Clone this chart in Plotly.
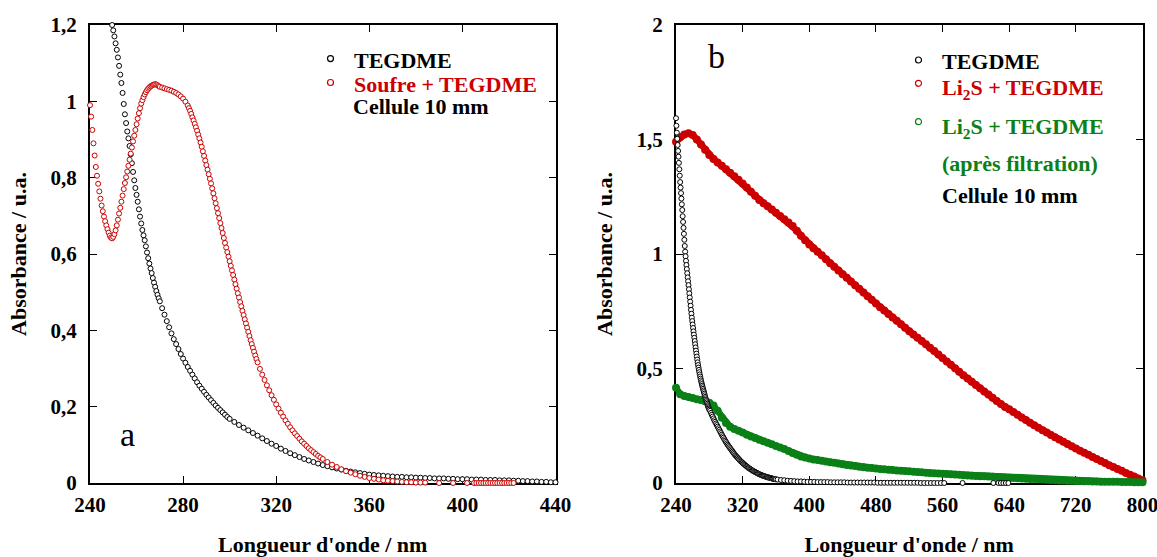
import numpy as np
import plotly.graph_objects as go

W, H = 1157, 557

# ---------------- Panel a : wavelengths (nm) and absorbances ----------------
a_teg_wl = np.concatenate([np.arange(249.5, 270.01, 0.5), np.arange(271, 300.1, 1), np.arange(302, 440.1, 2)])
a_teg_abs = [
    1.200, 1.186, 1.170, 1.152, 1.135, 1.115, 1.093, 1.070, 1.048, 1.022,
    0.993, 0.966, 0.943, 0.921, 0.903, 0.883, 0.861, 0.838, 0.815, 0.793,
    0.773, 0.755, 0.737, 0.717, 0.698, 0.680, 0.663, 0.649, 0.636, 0.620,
    0.604, 0.589, 0.575, 0.562, 0.550, 0.537, 0.525, 0.514, 0.503, 0.493,
    0.484, 0.476,
    0.458, 0.441, 0.424, 0.408, 0.392, 0.377, 0.364, 0.351, 0.338, 0.326,
    0.315, 0.304, 0.294, 0.284, 0.274, 0.264, 0.255, 0.247, 0.239, 0.231,
    0.224, 0.217, 0.210, 0.203, 0.197, 0.191, 0.185, 0.179, 0.173, 0.168,
    0.160, 0.152, 0.145, 0.138, 0.131, 0.124, 0.117, 0.110, 0.103, 0.097,
    0.090, 0.084, 0.078, 0.073, 0.068, 0.063, 0.059, 0.055, 0.051, 0.047,
    0.044, 0.041, 0.038, 0.035, 0.032, 0.030, 0.028, 0.026, 0.024, 0.022,
    0.021, 0.020, 0.019, 0.018, 0.017, 0.016, 0.016, 0.015, 0.015, 0.014,
    0.014, 0.013, 0.013, 0.012, 0.012, 0.012, 0.011, 0.011, 0.010, 0.010,
    0.010, 0.009, 0.009, 0.009, 0.008, 0.008, 0.008, 0.007, 0.007, 0.007,
    0.006, 0.006, 0.005, 0.005, 0.004, 0.004, 0.003, 0.003, 0.002, 0.002,
]

a_sul_wl = np.concatenate([
    np.arange(239.5, 270.01, 0.5), np.arange(271, 282.1, 1), np.arange(282.5, 312.01, 0.5),
    np.arange(313, 340.1, 1), np.arange(342, 384.1, 2), [390, 396, 402], np.arange(405, 422.1, 1)])
a_sul_abs = [
    1.018, 0.990, 0.960, 0.925, 0.890, 0.858, 0.828, 0.805, 0.784, 0.764,
    0.745, 0.727, 0.712, 0.698, 0.686, 0.675, 0.665, 0.656, 0.648, 0.643,
    0.641, 0.645, 0.652, 0.662, 0.675, 0.690, 0.706, 0.721, 0.737, 0.753,
    0.770, 0.786, 0.801, 0.816, 0.831, 0.847, 0.863, 0.879, 0.895, 0.910,
    0.925, 0.940, 0.955, 0.969, 0.982, 0.994, 1.003, 1.011, 1.018, 1.024,
    1.029, 1.033, 1.036, 1.039, 1.041, 1.043, 1.044, 1.045, 1.044, 1.042,
    1.040, 1.038,
    1.036, 1.034, 1.032, 1.030, 1.028, 1.025, 1.022, 1.018, 1.013, 1.007,
    0.999, 0.989,
    0.982, 0.975, 0.967, 0.958, 0.950, 0.941, 0.932, 0.923, 0.913, 0.903,
    0.892, 0.881, 0.869, 0.857, 0.845, 0.833, 0.821, 0.809, 0.797, 0.785,
    0.772, 0.759, 0.746, 0.733, 0.720, 0.707, 0.694, 0.681, 0.668, 0.655,
    0.642, 0.629, 0.617, 0.605, 0.593, 0.581, 0.569, 0.557, 0.545, 0.533,
    0.521, 0.509, 0.497, 0.486, 0.474, 0.463, 0.451, 0.440, 0.429, 0.418,
    0.407, 0.396, 0.385, 0.374, 0.364, 0.354, 0.344, 0.334, 0.325, 0.316,
    0.299, 0.284, 0.270, 0.256, 0.243, 0.230, 0.218, 0.206, 0.195, 0.184,
    0.174, 0.164, 0.155, 0.146, 0.138, 0.130, 0.123, 0.116, 0.109, 0.103,
    0.097, 0.091, 0.086, 0.081, 0.076, 0.071, 0.067, 0.063,
    0.055, 0.048, 0.042, 0.036, 0.031, 0.027, 0.023, 0.019, 0.016, 0.013,
    0.011, 0.009, 0.007, 0.006, 0.005, 0.004, 0.003, 0.002, 0.002, 0.001,
    0.001, 0.001,
    0.0, 0.0, 0.0,
    0.0, 0.0, 0.0, 0.0, 0.0, 0.0, 0.0, 0.0, 0.0, 0.0,
    0.0, 0.0, 0.0, 0.0, 0.0, 0.0, 0.0, 0.0,
]

# ---------------- Panel b ----------------
b_teg_wl = np.concatenate([np.arange(240, 280.01, 0.5), np.arange(281, 360.1, 1), np.arange(362, 558.1, 4),
                           [562, 584, 621, 627, 630, 633, 636, 639]])
b_teg_abs = [
    1.593, 1.560, 1.530, 1.503, 1.476, 1.450, 1.425, 1.398, 1.370, 1.342,
    1.314, 1.290, 1.266, 1.242, 1.217, 1.192, 1.165, 1.140, 1.114, 1.088,
    1.062, 1.035, 1.010, 0.990, 0.970, 0.952, 0.934, 0.916, 0.898, 0.881,
    0.864, 0.846, 0.828, 0.810, 0.792, 0.774, 0.756, 0.739, 0.722, 0.707,
    0.692, 0.677, 0.662, 0.648, 0.634, 0.620, 0.606, 0.592, 0.578, 0.565,
    0.552, 0.539, 0.527, 0.515, 0.504, 0.494, 0.484, 0.474, 0.465, 0.456,
    0.448, 0.440, 0.432, 0.425, 0.418, 0.411, 0.404, 0.397, 0.390, 0.383,
    0.376, 0.370, 0.364, 0.358, 0.352, 0.346, 0.340, 0.335, 0.330, 0.325,
    0.320,
    0.315, 0.306, 0.298, 0.290, 0.282, 0.274, 0.267, 0.260, 0.253, 0.246,
    0.239, 0.232, 0.225, 0.218, 0.211, 0.204, 0.198, 0.191, 0.185, 0.179,
    0.173, 0.167, 0.162, 0.157, 0.152, 0.147, 0.142, 0.137, 0.132, 0.127,
    0.122, 0.118, 0.114, 0.110, 0.106, 0.102, 0.098, 0.094, 0.091, 0.088,
    0.084, 0.081, 0.078, 0.075, 0.072, 0.069, 0.066, 0.064, 0.061, 0.059,
    0.056, 0.054, 0.052, 0.050, 0.048, 0.046, 0.044, 0.042, 0.040, 0.038,
    0.037, 0.035, 0.034, 0.032, 0.031, 0.030, 0.029, 0.027, 0.026, 0.025,
    0.024, 0.023, 0.022, 0.021, 0.020, 0.019, 0.018, 0.017, 0.017, 0.016,
    0.015, 0.013, 0.012, 0.010, 0.009, 0.008, 0.007, 0.007, 0.006, 0.005,
    0.005, 0.005, 0.004, 0.004, 0.004, 0.004, 0.003, 0.003, 0.003, 0.003,
    0.003, 0.002, 0.002, 0.002, 0.002, 0.002, 0.002, 0.002, 0.002, 0.002,
    0.001, 0.001, 0.001, 0.001, 0.001, 0.001, 0.001, 0.001, 0.001, 0.001,
    0.001, 0.001, 0.001, 0.000, 0.000, 0.000, 0.000, 0.000, 0.000, 0.000,
    0.0, 0.0, 0.0, 0.0, 0.0, 0.0, 0.0, 0.0,
]

b_li2s_wl = np.arange(240, 800.1, 5)
b_li2s_abs = [
    1.490, 1.510, 1.522, 1.527, 1.520, 1.500, 1.478, 1.455, 1.432, 1.415,
    1.400, 1.385, 1.370, 1.355, 1.340, 1.324, 1.308, 1.290, 1.272, 1.254,
    1.236, 1.222, 1.208, 1.194, 1.180, 1.166, 1.152, 1.138, 1.122, 1.102,
    1.080, 1.060, 1.042, 1.025, 1.010, 0.994, 0.977, 0.960, 0.944, 0.928,
    0.912, 0.896, 0.880, 0.864, 0.848, 0.832, 0.816, 0.800, 0.784, 0.768,
    0.753, 0.738, 0.723, 0.708, 0.693, 0.678, 0.663, 0.648, 0.634, 0.620,
    0.606, 0.591, 0.576, 0.561, 0.546, 0.531, 0.516, 0.501, 0.486, 0.471,
    0.456, 0.442, 0.428, 0.414, 0.400, 0.386, 0.372, 0.358, 0.345, 0.332,
    0.322, 0.310, 0.298, 0.286, 0.275, 0.263, 0.252, 0.241, 0.230, 0.220,
    0.210, 0.200, 0.190, 0.180, 0.170, 0.160, 0.151, 0.141, 0.132, 0.123,
    0.114, 0.105, 0.096, 0.087, 0.078, 0.070, 0.061, 0.053, 0.044, 0.036,
    0.028, 0.020, 0.012,
]

b_filt_wl = np.arange(240, 800.1, 5)
b_filt_abs = [
    0.416, 0.388, 0.380, 0.376, 0.371, 0.366, 0.362, 0.357, 0.350, 0.338,
    0.315, 0.285, 0.262, 0.246, 0.236, 0.228, 0.220, 0.211, 0.203, 0.196,
    0.189, 0.182, 0.176, 0.169, 0.162, 0.155, 0.148, 0.140, 0.131, 0.123,
    0.116, 0.111, 0.107, 0.103, 0.100, 0.097, 0.094, 0.091, 0.088, 0.085,
    0.082, 0.079, 0.076, 0.074, 0.071, 0.069, 0.067, 0.065, 0.063, 0.061,
    0.060, 0.058, 0.057, 0.055, 0.054, 0.052, 0.051, 0.049, 0.048, 0.047,
    0.045, 0.044, 0.043, 0.042, 0.040, 0.039, 0.038, 0.037, 0.036, 0.034,
    0.033, 0.032, 0.031, 0.030, 0.029, 0.028, 0.027, 0.026, 0.025, 0.024,
    0.023, 0.022, 0.021, 0.020, 0.019, 0.018, 0.017, 0.016, 0.015, 0.014,
    0.013, 0.012, 0.011, 0.011, 0.010, 0.010, 0.009, 0.009, 0.008, 0.008,
    0.007, 0.007, 0.006, 0.006, 0.005, 0.005, 0.005, 0.004, 0.004, 0.004,
    0.003, 0.003, 0.003,
]

for xs, ys in [(a_teg_wl, a_teg_abs), (a_sul_wl, a_sul_abs), (b_teg_wl, b_teg_abs),
               (b_li2s_wl, b_li2s_abs), (b_filt_wl, b_filt_abs)]:
    assert len(xs) == len(ys), (len(xs), len(ys))

# ---------------- styling ----------------
RED = "#cc0000"
GREEN = "#0a8016"
SERIF = "Liberation Serif, Tinos, 'Times New Roman', Times, 'DejaVu Serif', serif"
T, B = 25, 74
PH = H - T - B

def px_x(p):
    return p / W

def px_y(p):
    return (H - B - p) / PH

fig = go.Figure()

def open_markers(x, y, color, xa, ya, name):
    return go.Scatter(x=x, y=y, mode="markers", name=name, xaxis=xa, yaxis=ya, cliponaxis=False,
                      showlegend=False,
                      marker=dict(symbol="circle", size=5, color="white", line=dict(color=color, width=1)))

def solid_band(x, y, color, xa, ya, name):
    return go.Scatter(x=x, y=y, mode="lines+markers", name=name, xaxis=xa, yaxis=ya, cliponaxis=False,
                      showlegend=False, line=dict(color=color, width=6.5),
                      marker=dict(symbol="circle", size=8, color=color, line=dict(width=0)))

fig.add_trace(open_markers(a_teg_wl, a_teg_abs, "black", "x", "y", "TEGDME"))
fig.add_trace(open_markers(a_sul_wl, a_sul_abs, RED, "x", "y", "Soufre + TEGDME"))
fig.add_trace(solid_band(b_li2s_wl, b_li2s_abs, RED, "x2", "y2", "Li2S + TEGDME"))
fig.add_trace(solid_band(b_filt_wl, b_filt_abs, GREEN, "x2", "y2", "Li2S + TEGDME (après filtration)"))
fig.add_trace(open_markers(b_teg_wl, b_teg_abs, "black", "x2", "y2", "TEGDME"))

tickfont = dict(family=SERIF, size=21, color="black", weight="bold")
titlefont = dict(family=SERIF, size=22, color="black", weight="bold")
common = dict(showline=True, linecolor="black", linewidth=2, mirror="ticks", ticks="inside",
              ticklen=7, tickwidth=1, tickcolor="black", showgrid=False, zeroline=False,
              tickfont=tickfont, layer="below traces", automargin=False, ticklabeloverflow="allow")

fig.update_layout(
    width=W, height=H,
    margin=dict(l=0, r=0, t=T, b=B, autoexpand=False),
    paper_bgcolor="white", plot_bgcolor="white",
    separators=", ",
    showlegend=False,
    font=dict(family=SERIF),
    xaxis=dict(domain=[px_x(90), px_x(555.5)], range=[240, 440], dtick=40, tick0=240, anchor="y",
               ticklabelstandoff=2,
               title=dict(text="Longueur d'onde / nm", font=titlefont, standoff=34), **common),
    yaxis=dict(domain=[0, 1], range=[0, 1.2], dtick=0.2, anchor="x", ticklabelstandoff=7,
               title=dict(text="Absorbance / u.a.", font=titlefont, standoff=18), **common),
    xaxis2=dict(domain=[px_x(676), px_x(1142.5)], range=[240, 800], dtick=80, tick0=240, anchor="y2",
                ticklabelstandoff=2,
                title=dict(text="Longueur d'onde / nm", font=titlefont, standoff=34), **common),
    yaxis2=dict(domain=[0, 1], range=[0, 2], dtick=0.5, anchor="x2", ticklabelstandoff=7,
                title=dict(text="Absorbance / u.a.", font=titlefont, standoff=18), **common),
)

def txt(x, y, text, color, size=22, bold=True, anchor="left"):
    f = dict(family=SERIF, size=size, color=color)
    if bold:
        f["weight"] = "bold"
    fig.add_annotation(x=px_x(x), y=px_y(y), xref="paper", yref="paper", text=text, showarrow=False,
                       xanchor=anchor, yanchor="middle", font=f)

def legmark(x, y, color):
    fig.add_shape(type="circle", xref="paper", yref="paper", xsizemode="pixel", ysizemode="pixel",
                  xanchor=px_x(x), yanchor=px_y(y), x0=-3, x1=3, y0=-3, y1=3,
                  line=dict(color=color, width=1.2), fillcolor="white")

# panel a legend
legmark(330.5, 58.6, "black")
legmark(330.5, 82.5, RED)
txt(352, 60, "TEGDME", "black")
txt(352, 84, "Soufre + TEGDME", RED)
txt(351, 107, "Cellule 10 mm", "black")
txt(127, 434, "a", "black", size=34, bold=False, anchor="center")

# panel b legend
legmark(918.5, 60, "black")
legmark(918.5, 83.3, RED)
legmark(918.5, 121.7, GREEN)
txt(940, 61.5, "TEGDME", "black")
txt(940, 89, "Li<sub>2</sub>S + TEGDME", RED)
txt(940, 128, "Li<sub>2</sub>S + TEGDME", GREEN)
txt(940, 163, "(après filtration)", GREEN)
txt(940, 195, "Cellule 10 mm", "black")
txt(716, 56, "b", "black", size=34, bold=False, anchor="center")

fig.write_html("out.html", config={"displayModeBar": False},
               post_script="document.body.style.margin='0px';document.body.style.overflow='hidden';")
